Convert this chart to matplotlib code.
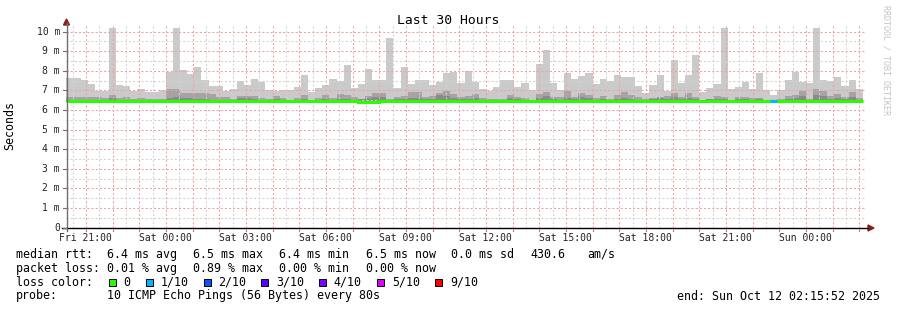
import numpy as np
import pandas as pd
import matplotlib
matplotlib.use("Agg")
import matplotlib.pyplot as plt
import matplotlib.dates as mdates
from matplotlib.lines import Line2D
from matplotlib.patches import Rectangle, Polygon

END = pd.Timestamp("2025-10-12 02:15:52")
START = END - pd.Timedelta(hours=30)

# smoke per 16 min bin (ms): max ping, 2nd band top, 3rd band top, min ping, median
max_ms = [7.65, 7.65, 7.53, 7.33, 6.95, 6.98, 10.18, 7.27, 7.22, 6.98,
          7.07, 6.92, 6.92, 7.02, 7.95, 10.18, 8.03, 7.83, 8.19, 7.53,
          7.22, 7.22, 6.95, 7.07, 7.48, 7.27, 7.58, 7.43, 7.00, 6.95,
          7.02, 7.02, 7.17, 7.78, 6.92, 7.12, 7.27, 7.58,
          7.50, 8.30, 7.12, 7.33, 8.08, 7.53, 7.53, 9.67, 7.12, 8.19,
          7.33, 7.53, 7.53, 7.27, 7.43, 7.88, 7.93, 7.38, 7.98, 7.43,
          7.07, 6.98, 7.17, 7.53, 7.53, 7.17, 7.38, 7.02, 8.35, 9.06,
          7.38, 7.02, 7.88, 7.58, 7.73, 7.88, 7.33,
          7.58, 7.48, 7.78, 7.68, 7.68, 7.22, 6.87, 7.27, 7.78, 6.97,
          8.55, 7.38, 7.78, 8.81, 6.92, 7.12, 7.33, 10.18, 7.07, 7.17,
          7.43, 7.07, 7.88, 7.02, 6.76, 7.02, 7.53, 7.93, 7.43, 7.38,
          10.18, 7.53, 7.48, 7.68, 7.22, 7.53, 7.07]

p2_ms = [6.67, 6.67, 6.67, 6.67, 6.67, 6.61, 6.77, 6.61, 6.67, 6.56,
         6.61, 6.56, 6.56, 6.56, 7.07, 7.07, 6.87, 6.87, 6.87, 6.87,
         6.82, 6.67, 6.67, 6.56, 6.71, 6.71, 6.71, 6.61, 6.56, 6.71,
         6.61, 6.51, 6.61, 6.77, 6.51, 6.61, 6.77, 6.61,
         6.82, 6.77, 6.67, 6.56, 6.73, 6.87, 6.87, 6.56, 6.67, 6.71,
         6.92, 6.92, 6.67, 6.71, 6.87, 6.97, 6.82, 6.67, 6.71, 6.82,
         6.61, 6.56, 6.56, 6.56, 6.77, 6.67, 6.61, 6.51, 6.82, 6.92,
         6.67, 6.67, 6.97, 6.67, 6.87, 6.77, 6.61,
         6.71, 6.56, 6.77, 6.92, 6.77, 6.67, 6.56, 6.61, 6.67, 6.71,
         6.87, 6.67, 6.87, 6.67, 6.51, 6.56, 6.71, 6.67, 6.51, 6.67,
         6.67, 6.61, 6.61, 6.51, 6.51, 6.56, 6.71, 6.77, 6.97, 6.56,
         7.07, 6.97, 6.71, 6.82, 6.67, 6.92, 6.61]

p3_ms = [6.53, 6.53, 6.53, 6.53, 6.53, 6.53, 6.60, 6.53, 6.53, 6.53,
         6.53, 6.53, 6.53, 6.53, 6.62, 6.67, 6.62, 6.60, 6.55, 6.55,
         6.53, 6.53, 6.53, 6.53, 6.60, 6.62, 6.55, 6.53, 6.53, 6.55,
         6.53, 6.53, 6.53, 6.55, 6.53, 6.53, 6.55, 6.53,
         6.55, 6.55, 6.53, 6.58, 6.60, 6.66, 6.66, 6.53, 6.55, 6.55,
         6.62, 6.60, 6.55, 6.55, 6.77, 6.72, 6.60, 6.55, 6.55, 6.60,
         6.53, 6.53, 6.53, 6.53, 6.60, 6.55, 6.53, 6.53, 6.60, 6.72,
         6.55, 6.53, 6.60, 6.55, 6.65, 6.60, 6.53,
         6.57, 6.53, 6.55, 6.60, 6.55, 6.53, 6.53, 6.55, 6.60, 6.55,
         6.68, 6.55, 6.62, 6.55, 6.53, 6.57, 6.55, 6.55, 6.53, 6.58,
         6.55, 6.53, 6.55, 6.53, 6.53, 6.53, 6.55, 6.60, 6.70, 6.53,
         6.78, 6.72, 6.55, 6.62, 6.55, 6.65, 6.53]

min_ms = [6.40, 6.40, 6.40, 6.40, 6.40, 6.40, 6.40, 6.40, 6.40, 6.40,
          6.40, 6.40, 6.40, 6.40, 6.40, 6.40, 6.40, 6.40, 6.40, 6.40,
          6.40, 6.40, 6.40, 6.40, 6.40, 6.40, 6.40, 6.40, 6.40, 6.40,
          6.40, 6.40, 6.40, 6.40, 6.40, 6.40, 6.40, 6.40,
          6.40, 6.40, 6.40, 6.36, 6.35, 6.35, 6.40, 6.40, 6.40, 6.40,
          6.40, 6.40, 6.40, 6.40, 6.40, 6.40, 6.40, 6.40, 6.40, 6.40,
          6.40, 6.40, 6.40, 6.40, 6.40, 6.40, 6.40, 6.40, 6.40, 6.40,
          6.40, 6.40, 6.40, 6.40, 6.40, 6.40, 6.40,
          6.40, 6.40, 6.40, 6.40, 6.40, 6.40, 6.40, 6.40, 6.40, 6.40,
          6.40, 6.40, 6.40, 6.40, 6.40, 6.40, 6.40, 6.40, 6.40, 6.40,
          6.40, 6.40, 6.40, 6.40, 6.40, 6.40, 6.40, 6.40, 6.40, 6.40,
          6.40, 6.40, 6.40, 6.40, 6.40, 6.40, 6.40]

median_ms = [6.44, 6.44, 6.44, 6.44, 6.44, 6.44, 6.44, 6.44, 6.44, 6.44,
             6.44, 6.44, 6.44, 6.44, 6.44, 6.44, 6.44, 6.44, 6.44, 6.44,
             6.44, 6.44, 6.44, 6.44, 6.44, 6.44, 6.44, 6.44, 6.44, 6.44,
             6.44, 6.44, 6.44, 6.44, 6.44, 6.44, 6.44, 6.44,
             6.44, 6.44, 6.44, 6.40, 6.39, 6.39, 6.44, 6.44, 6.44, 6.44,
             6.44, 6.44, 6.44, 6.44, 6.44, 6.44, 6.44, 6.44, 6.44, 6.44,
             6.44, 6.44, 6.44, 6.44, 6.44, 6.44, 6.44, 6.44, 6.44, 6.44,
             6.44, 6.44, 6.44, 6.44, 6.44, 6.44, 6.44,
             6.44, 6.44, 6.44, 6.44, 6.44, 6.44, 6.44, 6.44, 6.44, 6.44,
             6.44, 6.44, 6.44, 6.44, 6.44, 6.44, 6.44, 6.44, 6.44, 6.44,
             6.44, 6.44, 6.44, 6.44, 6.44, 6.44, 6.44, 6.44, 6.44, 6.44,
             6.44, 6.44, 6.44, 6.44, 6.44, 6.44, 6.44]

loss_tenths = [0, 0, 0, 0, 0, 0, 0, 0, 0, 0,
               0, 0, 0, 0, 0, 0, 0, 0, 0, 0,
               0, 0, 0, 0, 0, 0, 0, 0, 0, 0,
               0, 0, 0, 0, 0, 0, 0, 0,
               0, 0, 0, 0, 0, 0, 0, 0, 0, 0,
               0, 0, 0, 0, 0, 0, 0, 0, 0, 0,
               0, 0, 0, 0, 0, 0, 0, 0, 0, 0,
               0, 0, 0, 0, 0, 0, 0,
               0, 0, 0, 0, 0, 0, 0, 0, 0, 0,
               0, 0, 0, 0, 0, 0, 0, 0, 0, 0,
               0, 0, 0, 0, 1, 0, 0, 0, 0, 0,
               0, 0, 0, 0, 0, 0, 0]

loss_levels = [0, 1, 2, 3, 4, 5, 9]
loss_labels = ["0", "1/10", "2/10", "3/10", "4/10", "5/10", "9/10"]
loss_colors = ["#26ff00", "#00b8ff", "#0059ff", "#5e00ff", "#7e00ff", "#dd00ff", "#ff0000"]

xtick_times = ["2025-10-10 21:00", "2025-10-11 00:00", "2025-10-11 03:00",
               "2025-10-11 06:00", "2025-10-11 09:00", "2025-10-11 12:00",
               "2025-10-11 15:00", "2025-10-11 18:00", "2025-10-11 21:00",
               "2025-10-12 00:00"]
xtick_labels = ["Fri 21:00", "Sat 00:00", "Sat 03:00", "Sat 06:00", "Sat 09:00",
                "Sat 12:00", "Sat 15:00", "Sat 18:00", "Sat 21:00", "Sun 00:00"]
ytick_vals = [0, 1, 2, 3, 4, 5, 6, 7, 8, 9, 10]
ytick_labels = ["0", "1 m", "2 m", "3 m", "4 m", "5 m", "6 m", "7 m", "8 m", "9 m", "10 m"]

rtt_stats = ["6.4 ms avg", "6.5 ms max", "6.4 ms min", "6.5 ms now", "0.0 ms sd", "430.6", "am/s"]
loss_stats = ["0.01 % avg", "0.89 % max", "0.00 % min", "0.00 % now"]
probe_text = "10 ICMP Echo Pings (56 Bytes) every 80s"
end_text = "end: Sun Oct 12 02:15:52 2025"

W, H = 897, 310
MONO = "DejaVu Sans Mono"


def fx(x):
    return x / W


def fy(y):
    return 1 - y / H


fig = plt.figure(figsize=(W / 100, H / 100), dpi=100)
fig.patch.set_facecolor("white")

X0, X1, Y0, Y1 = 66.3, 866.3, 227.6, 26.0
ax = fig.add_axes([fx(X0), fy(Y0), (X1 - X0) / W, (Y0 - Y1) / H])
ax.set_facecolor("white")
for s in ax.spines.values():
    s.set_visible(False)
ax.set_xticks([])
ax.set_yticks([])

t0 = mdates.date2num(START)
t1 = mdates.date2num(END)
ymax = (Y0 - Y1) / 19.6
ax.set_xlim(t0, t1)
ax.set_ylim(0, ymax)

edges = mdates.date2num(pd.date_range(START, periods=len(max_ms) + 1, freq="16min"))

# smoke
ax.stairs(max_ms, edges, baseline=min_ms, fill=True, color="#cacaca", lw=0, zorder=2)
ax.stairs(p2_ms, edges, baseline=min_ms, fill=True, color="#a4a4a4", lw=0, zorder=3)
ax.stairs(p3_ms, edges, baseline=min_ms, fill=True, color="#8a8a8a", lw=0, zorder=4)

# median line colored by loss
ax.stairs(median_ms, edges, baseline=None, color=loss_colors[0], lw=2.2, zorder=6)
for i, lt in enumerate(loss_tenths):
    if lt > 0:
        c = loss_colors[loss_levels.index(lt)]
        ax.hlines(median_ms[i], edges[i], edges[i + 1], color=c, lw=2.2, zorder=7)

# grid
hours = pd.date_range("2025-10-10 20:30", "2025-10-12 02:00", freq="30min")
for h in hours:
    v = mdates.date2num(h)
    if v < t0:
        continue
    if h.minute == 0:
        ax.axvline(v, color="#f2a0a0", lw=0.75, ls=(0, (2, 2)), zorder=5)
    else:
        ax.axvline(v, color="#d2d2d2", lw=0.75, ls=(0, (2, 2)), zorder=5)
for k in range(1, 21):
    v = k * 0.5
    if k % 2 == 0:
        ax.axhline(v, color="#f2a0a0", lw=0.75, ls=(0, (2, 2)), zorder=5)
    else:
        ax.axhline(v, color="#d2d2d2", lw=0.75, ls=(0, (2, 2)), zorder=5)

# axes lines and arrows
fig.add_artist(Line2D([fx(66.5), fx(66.5)], [fy(231), fy(23)], color="#707070", lw=1.0))
fig.add_artist(Line2D([fx(62), fx(868)], [fy(228), fy(228)], color="black", lw=1.0))
fig.add_artist(Polygon([[fx(66.5), fy(19)], [fx(63.5), fy(25)], [fx(69.5), fy(25)]],
                       closed=True, color="#8b2020", transform=fig.transFigure))
fig.add_artist(Polygon([[fx(874), fy(228)], [fx(868), fy(225)], [fx(868), fy(231)]],
                       closed=True, color="#8b2020", transform=fig.transFigure))

# y ticks
for v, lab in zip(ytick_vals, ytick_labels):
    yp = Y0 - v * 19.6
    fig.add_artist(Line2D([fx(63), fx(66.5)], [fy(yp), fy(yp)], color="#707070", lw=0.8))
    fig.text(fx(60), fy(yp), lab, ha="right", va="center", fontsize=7.0,
             family=MONO, color="#222222")

# x ticks and labels
for h in pd.date_range("2025-10-10 21:00", "2025-10-12 02:00", freq="60min"):
    xp = X0 + (mdates.date2num(h) - t0) / (t1 - t0) * (X1 - X0)
    fig.add_artist(Line2D([fx(xp), fx(xp)], [fy(229), fy(231)], color="#e07070", lw=0.8))
for tt, lab in zip(xtick_times, xtick_labels):
    xp = X0 + (mdates.date2num(pd.Timestamp(tt)) - t0) / (t1 - t0) * (X1 - X0)
    fig.text(fx(xp), fy(238), lab, ha="center", va="center", fontsize=7.0,
             family=MONO, color="#222222")

# titles
fig.text(fx(448.5), fy(20), "Last 30 Hours", ha="center", va="center",
         fontsize=9.4, family=MONO, color="black")
fig.text(fx(10), fy(126), "Seconds", ha="center", va="center", rotation=90,
         fontsize=8.4, family=MONO, color="black")
fig.text(fx(886), fy(60), "RRDTOOL / TOBI OETIKER", ha="center", va="center",
         rotation=270, fontsize=6.0, family=MONO, color="#c4c4c4")

# legend
LX = 16
FS = 8.4
field_x = [107, 193, 279, 366, 451, 530, 587]
fig.text(fx(LX), fy(254.3), "median rtt:", ha="left", va="center", fontsize=FS, family=MONO)
for xp, s in zip(field_x, rtt_stats):
    fig.text(fx(xp), fy(254.3), s, ha="left", va="center", fontsize=FS, family=MONO)
fig.text(fx(LX), fy(268.3), "packet loss:", ha="left", va="center", fontsize=FS, family=MONO)
for xp, s in zip(field_x, loss_stats):
    fig.text(fx(xp), fy(268.3), s, ha="left", va="center", fontsize=FS, family=MONO)
fig.text(fx(LX), fy(282.3), "loss color:", ha="left", va="center", fontsize=FS, family=MONO)
box_x = [108.7, 145.7, 203.7, 261.3, 319.3, 377.3, 435.3]
for bx, c, lab in zip(box_x, loss_colors, loss_labels):
    fig.add_artist(Rectangle((fx(bx), fy(286)), 7 / W, 7 / H, facecolor=c,
                             edgecolor="black", lw=0.7, transform=fig.transFigure))
    fig.text(fx(bx + 14.6), fy(282.3), lab, ha="left", va="center", fontsize=FS, family=MONO)
fig.text(fx(LX), fy(296), "probe:", ha="left", va="center", fontsize=FS, family=MONO)
fig.text(fx(107), fy(296), probe_text, ha="left", va="center", fontsize=FS, family=MONO)
fig.text(fx(880), fy(296), end_text, ha="right", va="center", fontsize=FS, family=MONO)

fig.savefig("out.png", dpi=100)
